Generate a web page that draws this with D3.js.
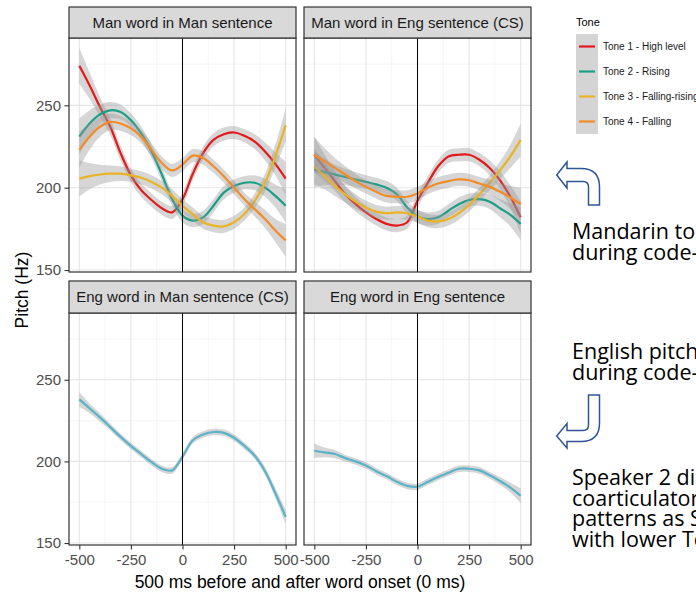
<!DOCTYPE html>
<html>
<head>
<meta charset="utf-8">
<script src="https://cdn.jsdelivr.net/npm/d3@7"></script>
<style>
body { margin: 0; background: #fff; }
svg { display: block; font-family: "Liberation Sans", Arial, sans-serif; }
</style>
</head>
<body>
<div id="chart"></div>
<script>
// time points, ms before / after word onset
var times = [-500, -450, -400, -350, -300, -250, -200, -150, -100, -50, 0,
             50, 100, 150, 200, 250, 300, 350, 400, 450, 500];

var panelTitles = ["Man word in Man sentence", "Man word in Eng sentence (CS)",
                   "Eng word in Man sentence (CS)", "Eng word in Eng sentence"];
var toneNames = ["Tone 1 - High level", "Tone 2 - Rising", "Tone 3 - Falling-rising", "Tone 4 - Falling"];
var xTicks = [-500, -250, 0, 250, 500];
var yTicks = [150, 200, 250];

// smoothed pitch (Hz), Mandarin word in Mandarin sentence
var manManT1 = [274, 262, 249, 237, 221, 207.5, 198.5, 192.5, 187.5, 185, 193, 208.5, 221, 229, 232.5, 233.5, 231.5, 228, 222, 214.5, 205.5];
var manManT2 = [231, 239, 244.5, 247, 246, 241, 233, 222, 208, 193, 183, 180, 182, 189, 197, 201, 203, 203, 200, 195, 189];
var manManT3 = [205.5, 207, 208, 208.5, 208.5, 207.5, 206, 203.5, 200, 195, 189, 184, 179, 177, 176.5, 179, 184, 192, 203, 219, 238];
var manManT4 = [223, 231, 237, 240, 239, 236, 231, 223, 215, 210.5, 214, 219.5, 218, 213, 207, 200, 193, 187, 181, 174, 168];

// Mandarin word in English sentence (code-switched)
var manEngT1 = [220, 212, 204, 196, 190, 185, 181, 178, 177, 179, 192, 203, 213, 219, 220, 220, 217, 212, 204.5, 194.5, 182];
var manEngT2 = [211, 209.5, 208, 206.5, 205, 203.5, 202, 200, 196, 188, 182.5, 181, 182, 186, 190, 192.5, 193, 191.5, 187.5, 183.5, 178];
var manEngT3 = [213, 207, 201, 196, 191.5, 188, 185.5, 184.5, 185, 184.5, 182.5, 180, 179.5, 181, 184.5, 189.5, 196, 203, 210.5, 219, 229];
var manEngT4 = [220, 216, 212, 208, 204, 200.5, 197.5, 195, 194.5, 194.5, 196.5, 200, 202.5, 204, 205, 204.5, 202.5, 200.5, 197.5, 194, 190];

// English words
var engMan = [238, 232.5, 227, 221, 215, 209.5, 204.5, 199.5, 195.5, 194.5, 203, 213, 216.5, 218, 217.5, 214.5, 209.5, 203.5, 194, 180.5, 166];
var engEng = [206.5, 205.5, 204.5, 202, 200, 197.5, 194, 191, 187.5, 185, 184.5, 187.5, 190.5, 193, 195.5, 195.5, 194.5, 191.5, 188, 184, 179];

// half width of the confidence band (Hz)
var seTop = [11, 8, 6, 5, 4.5, 4, 4, 4, 4, 4, 4, 4, 4, 4, 4, 4, 4, 4.5, 5.5, 7, 10];
var seBottom = [4.5, 3, 2.5, 2, 2, 2, 2, 2, 2, 2, 2, 2, 2, 2, 2, 2, 2, 2, 2.5, 3, 4.5];

var toneColors = ["#e31a1c", "#1b9e86", "#e8b425", "#f28c28"];
var engColor = "#5bb3c8";

var width = 696, height = 593;
var cols = [69, 304], panelW = 227;
var rows = [{strip: 7, top: 38, bottom: 272}, {strip: 281, top: 313, bottom: 545}];

var panels = [
  {title: panelTitles[0], row: 0, col: 0, se: seTop,
   series: [manManT1, manManT2, manManT3, manManT4].map(function(v, i) { return {values: v, color: toneColors[i]}; })},
  {title: panelTitles[1], row: 0, col: 1, se: seTop,
   series: [manEngT1, manEngT2, manEngT3, manEngT4].map(function(v, i) { return {values: v, color: toneColors[i]}; })},
  {title: panelTitles[2], row: 1, col: 0, se: seBottom, series: [{values: engMan, color: engColor}]},
  {title: panelTitles[3], row: 1, col: 1, se: seBottom, series: [{values: engEng, color: engColor}]}
];

var svg = d3.select("#chart").append("svg")
    .attr("width", width)
    .attr("height", height);

var xMinor = xTicks.slice(1).map(function(t, i) { return (t + xTicks[i]) / 2; });
var yMinor = yTicks.map(function(t) { return t + 25; });

panels.forEach(function(p) {
  var x0 = cols[p.col], r = rows[p.row];
  var x = d3.scaleLinear().domain([-550, 550]).range([x0, x0 + panelW]);
  var y = d3.scaleLinear().domain([148.8, 290.9]).range([r.bottom, r.top]);

  var g = svg.append("g");

  g.append("rect")
      .attr("x", x0).attr("y", r.top)
      .attr("width", panelW).attr("height", r.bottom - r.top)
      .attr("fill", "#fff");

  // grid lines
  g.selectAll(".xminor").data(xMinor).enter().append("line")
      .attr("x1", function(d) { return x(d); }).attr("x2", function(d) { return x(d); })
      .attr("y1", r.top).attr("y2", r.bottom)
      .attr("stroke", "#f0f0f0").attr("stroke-width", 0.6);
  g.selectAll(".yminor").data(yMinor).enter().append("line")
      .attr("x1", x0).attr("x2", x0 + panelW)
      .attr("y1", function(d) { return y(d); }).attr("y2", function(d) { return y(d); })
      .attr("stroke", "#f0f0f0").attr("stroke-width", 0.6);
  g.selectAll(".xmajor").data(xTicks).enter().append("line")
      .attr("x1", function(d) { return x(d); }).attr("x2", function(d) { return x(d); })
      .attr("y1", r.top).attr("y2", r.bottom)
      .attr("stroke", "#e6e6e6").attr("stroke-width", 1.1);
  g.selectAll(".ymajor").data(yTicks).enter().append("line")
      .attr("x1", x0).attr("x2", x0 + panelW)
      .attr("y1", function(d) { return y(d); }).attr("y2", function(d) { return y(d); })
      .attr("stroke", "#e6e6e6").attr("stroke-width", 1.1);

  var area = d3.area()
      .x(function(d, i) { return x(times[i]); })
      .y0(function(d, i) { return y(d - p.se[i]); })
      .y1(function(d, i) { return y(d + p.se[i]); })
      .curve(d3.curveCatmullRom);
  var line = d3.line()
      .x(function(d, i) { return x(times[i]); })
      .y(function(d) { return y(d); })
      .curve(d3.curveCatmullRom);

  // ribbon then line, group by group like geom_smooth
  p.series.forEach(function(s) {
    g.append("path")
        .datum(s.values)
        .attr("d", area)
        .attr("fill", "#999").attr("fill-opacity", 0.4);
    g.append("path")
        .datum(s.values)
        .attr("d", line)
        .attr("fill", "none")
        .attr("stroke", s.color)
        .attr("stroke-width", 2.2);
  });

  // onset line
  g.append("line")
      .attr("x1", x(0)).attr("x2", x(0))
      .attr("y1", r.top).attr("y2", r.bottom)
      .attr("stroke", "#000").attr("stroke-width", 1);

  g.append("rect")
      .attr("x", x0).attr("y", r.top)
      .attr("width", panelW).attr("height", r.bottom - r.top)
      .attr("fill", "none").attr("stroke", "#333").attr("stroke-width", 1.2);

  // strip
  g.append("rect")
      .attr("x", x0).attr("y", r.strip)
      .attr("width", panelW).attr("height", r.top - r.strip)
      .attr("fill", "#d9d9d9").attr("stroke", "#333").attr("stroke-width", 1.2);
  g.append("text")
      .attr("x", x0 + panelW / 2).attr("y", (r.strip + r.top) / 2)
      .attr("dy", "0.36em")
      .attr("text-anchor", "middle")
      .attr("font-size", 15).attr("fill", "#1a1a1a")
      .text(p.title);

  if (p.col === 0) {
    var ya = g.append("g")
        .attr("transform", "translate(" + x0 + ",0)")
        .call(d3.axisLeft(y).tickValues(yTicks).tickSize(4.5).tickPadding(3.5)
              .tickFormat(function(d) { return String(d); }));
    styleAxis(ya);
  }
  if (p.row === 1) {
    var xa = g.append("g")
        .attr("transform", "translate(0," + r.bottom + ")")
        .call(d3.axisBottom(x).tickValues(xTicks).tickSize(4.5).tickPadding(5)
              .tickFormat(function(d) { return String(d); }));
    styleAxis(xa);
  }
});

function styleAxis(a) {
  a.select(".domain").remove();
  a.selectAll(".tick line").attr("stroke", "#333").attr("stroke-width", 1.1);
  a.selectAll(".tick text")
      .attr("fill", "#4d4d4d")
      .attr("font-size", 15)
      .attr("font-family", "Liberation Sans, Arial, sans-serif");
}

// axis titles
svg.append("text")
    .attr("x", 300).attr("y", 588)
    .attr("text-anchor", "middle")
    .attr("font-size", 17.5)
    .text("500 ms before and after word onset (0 ms)");
svg.append("text")
    .attr("transform", "translate(28,290) rotate(-90)")
    .attr("text-anchor", "middle")
    .attr("font-size", 17.5)
    .text("Pitch (Hz)");

// legend
var leg = svg.append("g");
leg.append("text")
    .attr("x", 576).attr("y", 26)
    .attr("font-size", 11)
    .text("Tone");
leg.selectAll(".key").data(toneNames).enter().append("rect")
    .attr("x", 576).attr("y", function(d, i) { return 34 + i * 25; })
    .attr("width", 22).attr("height", 25)
    .attr("fill", "#d4d4d4");
leg.selectAll(".keyline").data(toneNames).enter().append("line")
    .attr("x1", 579).attr("x2", 595)
    .attr("y1", function(d, i) { return 46.5 + i * 25; })
    .attr("y2", function(d, i) { return 46.5 + i * 25; })
    .attr("stroke", function(d, i) { return toneColors[i]; })
    .attr("stroke-width", 2.2);
leg.selectAll(".label").data(toneNames).enter().append("text")
    .attr("x", 603)
    .attr("y", function(d, i) { return 46.5 + i * 25; })
    .attr("dy", "0.36em")
    .attr("font-size", 10).attr("fill", "#1a1a1a")
    .text(function(d) { return d; });

// slide annotations beside the chart, one text block each
var notes = [
  {y: 239, lines: ["Mandarin tones varied", "during code-switching"]},
  {y: 359, lines: ["English pitch was stable", "during code-switching"]},
  {y: 485, lines: ["Speaker 2 displayed similar", "coarticulatory", "patterns as Speaker 1,", "with lower Tone 4"]}
];
var note = svg.append("g")
    .attr("font-family", "Open Sans, Noto Sans, sans-serif")
    .attr("font-size", 21.5)
    .attr("fill", "#000");
note.selectAll("text").data(notes).enter().append("text")
    .attr("y", function(d) { return d.y; })
  .selectAll("tspan").data(function(d) { return d.lines; }).enter().append("tspan")
    .attr("x", 572)
    .attr("dy", function(d, i) { return i === 0 ? 0 : 20.5; })
    .text(function(d) { return d; });

// curved arrows
svg.append("path")
    .attr("d", "M556.7,175 L567,162 L567,168.5 L581,168.5 Q599.5,168.5 599.5,187 L599.5,205 L588.5,205 L588.5,187 Q588.5,181.5 583,181.5 L567,181.5 L567,188 Z")
    .attr("fill", "#fff").attr("stroke", "#2f5597").attr("stroke-width", 1.5);
svg.append("path")
    .attr("d", "M599.5,395 L599.5,423 Q599.5,441.5 581,441.5 L567,441.5 L567,448 L556.7,436 L567,423.5 L567,430.5 L583,430.5 Q588.5,430.5 588.5,425 L588.5,395 Z")
    .attr("fill", "#fff").attr("stroke", "#2f5597").attr("stroke-width", 1.5);
</script>
</body>
</html>
